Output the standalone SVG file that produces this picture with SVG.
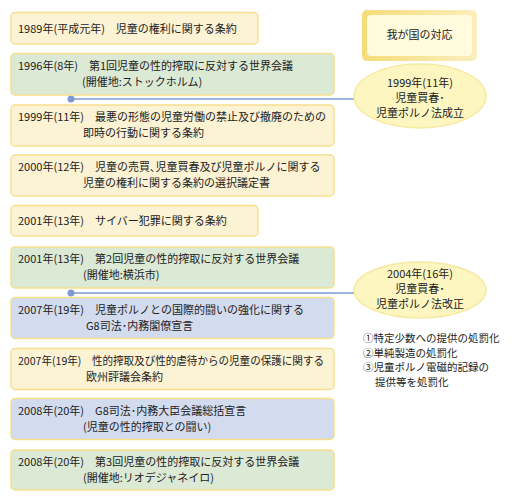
<svg xmlns="http://www.w3.org/2000/svg" width="514" height="501" viewBox="0 0 514 501">
<defs>
<style>
.t{font-family:"Noto Sans CJK JP","Noto Sans CJK SC",sans-serif;font-size:11px;fill:#222;}
.n{font-size:10.5px;}
.c{text-anchor:middle;}
.y{fill:#fcf2d4;stroke:#f6e08c;stroke-width:1.5;}
.g{fill:#dbe9d5;stroke:#f6e08c;stroke-width:1.5;}
.b{fill:#d3dcee;stroke:#f6e08c;stroke-width:1.5;}
.e{fill:#fdf6c0;stroke:#f7eaa0;stroke-width:1.5;}
.ln{stroke:#7b9ad3;stroke-width:1.5;fill:none;}
</style>
<linearGradient id="gold" x1="0" y1="0" x2="1" y2="0">
<stop offset="0" stop-color="#f5dc78"/>
<stop offset="1" stop-color="#faefbc"/>
</linearGradient>
</defs>
<rect width="514" height="501" fill="#fff"/>
<g id="connectors">
<line class="ln" x1="71" y1="99" x2="354" y2="99"/>
<circle cx="71" cy="99" r="3.5" fill="#7b9ad3"/>
<line class="ln" x1="71" y1="293" x2="354" y2="293"/>
<circle cx="71" cy="293" r="3.5" fill="#7b9ad3"/>
</g>
<g id="n1"><rect class="y" x="11" y="12.5" width="247" height="31.5" rx="4"/>
<text class="t" x="18" y="33">1989年(平成元年)　児童の権利に関する条約</text></g>
<g id="n2"><rect class="g" x="11" y="53.5" width="323" height="41.5" rx="4"/>
<text class="t" x="18" y="70">1996年(8年)　第1回児童の性的搾取に反対する世界会議</text>
<text class="t" x="82" y="86">(開催地:ストックホルム)</text></g>
<g id="n3"><rect class="y" x="11" y="105" width="323" height="41" rx="4"/>
<text class="t" x="18" y="121">1999年(11年)　最悪の形態の児童労働の禁止及び撤廃のための</text>
<text class="t" x="83" y="137">即時の行動に関する条約</text></g>
<g id="n4"><rect class="y" x="11" y="155" width="323" height="41" rx="4"/>
<text class="t" x="18" y="171">2000年(12年)　児童の売買､児童買春及び児童ポルノに関する</text>
<text class="t" x="83" y="187">児童の権利に関する条約の選択議定書</text></g>
<g id="n5"><rect class="y" x="11" y="205.5" width="247" height="30.5" rx="4"/>
<text class="t" x="18" y="225">2001年(13年)　サイバー犯罪に関する条約</text></g>
<g id="n6"><rect class="g" x="11" y="247" width="323" height="41" rx="4"/>
<text class="t" x="18" y="263">2001年(13年)　第2回児童の性的搾取に反対する世界会議</text>
<text class="t" x="83" y="279">(開催地:横浜市)</text></g>
<g id="n7"><rect class="b" x="11" y="297.5" width="323" height="41" rx="4"/>
<text class="t" x="18" y="314">2007年(19年)　児童ポルノとの国際的闘いの強化に関する</text>
<text class="t" x="86" y="330">G8司法･内務閣僚宣言</text></g>
<g id="n8"><rect class="y" x="11" y="348.5" width="323" height="41" rx="4"/>
<text class="t" x="18" y="365" textLength="306" lengthAdjust="spacingAndGlyphs">2007年(19年)　性的搾取及び性的虐待からの児童の保護に関する</text>
<text class="t" x="86" y="381">欧州評議会条約</text></g>
<g id="n9"><rect class="b" x="11" y="398.5" width="323" height="41" rx="4"/>
<text class="t" x="18" y="415">2008年(20年)　G8司法･内務大臣会議総括宣言</text>
<text class="t" x="83" y="431">(児童の性的搾取との闘い)</text></g>
<g id="n10"><rect class="g" x="11" y="450" width="323" height="40" rx="4"/>
<text class="t" x="18" y="466">2008年(20年)　第3回児童の性的搾取に反対する世界会議</text>
<text class="t" x="83" y="482">(開催地:リオデジャネイロ)</text></g>
<g id="header"><rect x="362" y="10" width="115" height="51" rx="5" fill="url(#gold)"/>
<rect x="367" y="15" width="105" height="41" rx="4" fill="#fffbdc"/>
<text class="t c" x="419.5" y="39">我が国の対応</text></g>
<g id="e1"><ellipse class="e" cx="420" cy="96" rx="66" ry="32"/>
<text class="t c" x="420" y="87">1999年(11年)</text>
<text class="t c" x="420" y="102">児童買春･</text>
<text class="t c" x="420" y="117">児童ポルノ法成立</text></g>
<g id="e2"><ellipse class="e" cx="420" cy="290" rx="66" ry="28"/>
<text class="t c" x="420" y="278">2004年(16年)</text>
<text class="t c" x="420" y="293">児童買春･</text>
<text class="t c" x="420" y="308">児童ポルノ法改正</text></g>
<g id="notes">
<text class="t n" x="363" y="342">①特定少数への提供の処罰化</text>
<text class="t n" x="363" y="356.5">②単純製造の処罰化</text>
<text class="t n" x="363" y="371">③児童ポルノ電磁的記録の</text>
<text class="t n" x="375" y="385.5">提供等を処罰化</text>
</g>
</svg>
